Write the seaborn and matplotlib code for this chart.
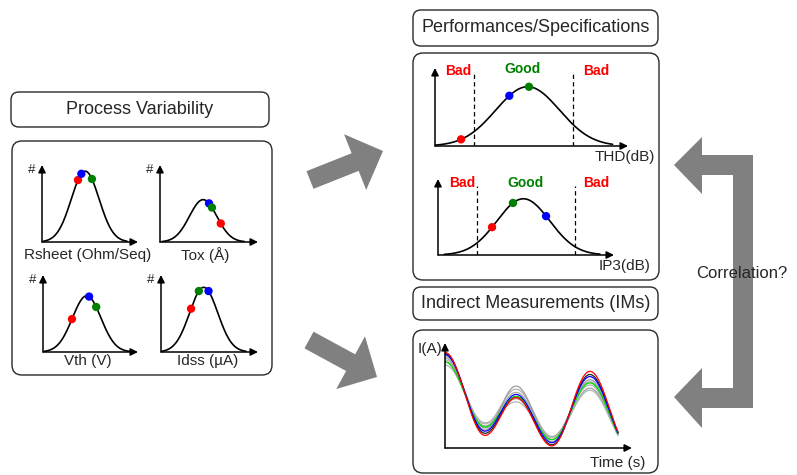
import numpy as np
import pandas as pd
import matplotlib.pyplot as plt
import seaborn as sns
from matplotlib.patches import FancyBboxPatch, FancyArrow, Polygon

sns.set_style("white")
plt.rcParams['font.family'] = ['Liberation Sans', 'DejaVu Sans']

W, H = 797, 475

# Process variability distributions (axes units: x 0..1, y 0..1)
pv_names = ['Rsheet (Ohm/Seq)', 'Tox (Å)', 'Vth (V)', 'Idss (µA)']
pv_center = [0.45, 0.44, 0.46, 0.44]
pv_sigma = [0.145, 0.14, 0.15, 0.145]
pv_peak = [0.92, 0.55, 0.73, 0.84]
# dot positions along x: red, blue, green
pv_red = [0.375, 0.62, 0.305, 0.31]
pv_blue = [0.41, 0.50, 0.485, 0.49]
pv_green = [0.52, 0.53, 0.56, 0.39]

# Performance distributions
perf_names = ['THD(dB)', 'IP3(dB)']
perf_center = [0.48, 0.485]
perf_sigma = [0.165, 0.15]
perf_peak = [0.76, 0.74]
perf_limits = [(0.20, 0.715), (0.22, 0.78)]
perf_red = [0.135, 0.307]
perf_blue = [0.385, 0.614]
perf_green = [0.487, 0.426]

# Indirect measurement waveforms: values read at the extrema
wave_t = [0.0, 0.214, 0.38, 0.572, 0.775, 0.985]
wave_end = 0.925
wave_traces = {
    'grey1': [0.84, 0.23, 0.56, 0.11, 0.60, 0.02],
    'grey2': [0.82, 0.21, 0.53, 0.10, 0.63, 0.02],
    'grey3': [0.86, 0.19, 0.47, 0.08, 0.57, 0.02],
    'grey4': [0.79, 0.24, 0.44, 0.10, 0.55, 0.02],
    'grey5': [0.88, 0.17, 0.59, 0.06, 0.65, 0.02],
    'black': [0.90, 0.14, 0.49, 0.03, 0.70, 0.02],
    'green': [0.82, 0.20, 0.49, 0.08, 0.62, 0.02],
    'blue': [0.89, 0.16, 0.51, 0.05, 0.68, 0.02],
    'red': [0.91, 0.12, 0.48, 0.02, 0.73, 0.02],
}
wave_colors = {'grey1': '#b0b0b0', 'grey2': '#a8a8a8', 'grey3': '#a0a0a0',
               'grey4': '#b4b4b4', 'grey5': '#9c9c9c', 'black': '#202020',
               'green': '#00dd00', 'blue': '#0000ff', 'red': '#ff0000'}

DOT = {'r': '#ff0000', 'b': '#0000ff', 'g': '#008000'}

fig = plt.figure(figsize=(W / 100, H / 100), dpi=100)
ax0 = fig.add_axes([0, 0, 1, 1])
ax0.set_xlim(0, W)
ax0.set_ylim(H, 0)
ax0.axis('off')


def rbox(x0, y0, x1, y1, r=9):
    ax0.add_patch(FancyBboxPatch((x0, y0), x1 - x0, y1 - y0,
                                 boxstyle=f"round,pad=0,rounding_size={r}",
                                 fc='white', ec='#2a2a2a', lw=1.0))


def px_axes(x0, ytop, x1, ybot):
    ax = fig.add_axes([x0 / W, 1 - ybot / H, (x1 - x0) / W, (ybot - ytop) / H])
    ax.set_xlim(0, 1)
    ax.set_ylim(0, 1)
    ax.axis('off')
    ax.patch.set_alpha(0)
    arrow = dict(arrowstyle='-|>', color='black', lw=1.1, mutation_scale=11,
                 shrinkA=0, shrinkB=0)
    ax.annotate('', xy=(0, 1), xytext=(0, 0), xycoords='axes fraction',
                arrowprops=arrow, annotation_clip=False)
    ax.annotate('', xy=(1, 0), xytext=(0, 0), xycoords='axes fraction',
                arrowprops=arrow, annotation_clip=False)
    return ax


def bell(c, s, p, x):
    return p * np.exp(-0.5 * ((np.asarray(x) - c) / s) ** 2)


def draw_bell(ax, c, s, p, xr, xb, xg, lo=0.01, hi=0.95):
    x = np.linspace(max(lo, c - 3 * s), min(hi, c + 3 * s), 200)
    sns.lineplot(x=x, y=bell(c, s, p, x), ax=ax, color='black', lw=1.2)
    dx = [xr, xb, xg]
    dots = pd.DataFrame({'x': dx, 'y': bell(c, s, p, dx), 'c': ['r', 'b', 'g']})
    sns.scatterplot(data=dots, x='x', y='y', hue='c', palette=DOT, s=36,
                    edgecolor='none', legend=False, ax=ax, zorder=5, clip_on=False)


# ---- boxes
rbox(11, 92, 269, 127, 8)
rbox(12, 141, 272, 375, 10)
rbox(413, 10, 658, 46, 8)
rbox(413, 53, 659, 280, 10)
rbox(413, 287, 658, 320, 8)
rbox(413, 330, 658, 473, 10)

ax0.text(140, 109, 'Process Variability', ha='center', va='center', fontsize=13)
ax0.text(536, 28, 'Performances/Specifications', ha='center', va='center', fontsize=13)
ax0.text(536, 304, 'Indirect Measurements (IMs)', ha='center', va='center', fontsize=13)

# ---- process variability mini plots
pv_boxes = [(42, 165, 138, 242), (160, 165, 258, 242),
            (43, 275, 138, 352), (161, 275, 258, 352)]
pv_label_pos = [(88, 255), (205, 255), (88, 361), (208, 361)]
for i, (x0, yt, x1, yb) in enumerate(pv_boxes):
    ax = px_axes(x0, yt, x1, yb)
    draw_bell(ax, pv_center[i], pv_sigma[i], pv_peak[i],
              pv_red[i], pv_blue[i], pv_green[i])
    ax0.text(x0 - 10, yt + 5, '#', ha='center', va='center', fontsize=9.5)
    ax0.text(*pv_label_pos[i], pv_names[i], ha='center', va='center', fontsize=11)

# ---- performance plots
perf_boxes = [(435, 68, 628, 146), (438, 179, 614, 255)]
perf_label_pos = [(655, 157), (651, 266)]
perf_text_y = [(0.96, 0.99), (0.95, 0.95)]
for i, (x0, yt, x1, yb) in enumerate(perf_boxes):
    ax = px_axes(x0, yt, x1, yb)
    draw_bell(ax, perf_center[i], perf_sigma[i], perf_peak[i],
              perf_red[i], perf_blue[i], perf_green[i], lo=0.0, hi=0.92)
    lo, hi = perf_limits[i]
    top = perf_text_y[i][0] - 0.04
    for v in (lo, hi):
        ax.plot([v, v], [0, top], color='black', lw=0.9, ls=(0, (3.5, 2.5)))
    yb_, yg_ = perf_text_y[i]
    ax.text(lo - 0.08, yb_, 'Bad', color='#ff0000', fontweight='bold',
            ha='center', va='center', fontsize=10)
    ax.text(hi + 0.12, yb_, 'Bad', color='#ff0000', fontweight='bold',
            ha='center', va='center', fontsize=10)
    ax.text((lo + hi) / 2 - 0.005, yg_, 'Good', color='#008000', fontweight='bold',
            ha='center', va='center', fontsize=10)
    ax0.text(*perf_label_pos[i], perf_names[i], ha='right', va='center', fontsize=11)

# ---- waveforms
axw = px_axes(445, 343, 632, 448)
tt = np.linspace(0, wave_end, 300)
kt = np.array(wave_t)
seg = np.clip(np.searchsorted(kt, tt, side='right') - 1, 0, len(kt) - 2)
frac = (tt - kt[seg]) / (kt[seg + 1] - kt[seg])
ease = (1 - np.cos(np.pi * frac)) / 2
for name, vals in wave_traces.items():
    v = np.array(vals)
    y = v[seg] + (v[seg + 1] - v[seg]) * ease
    sns.lineplot(x=tt, y=y, ax=axw, color=wave_colors[name], lw=0.9)
ax0.text(430, 349, 'I(A)', ha='center', va='center', fontsize=11)
ax0.text(645, 463, 'Time (s)', ha='right', va='center', fontsize=11)

# ---- big grey arrows
GREY = '#808080'
ax0.add_patch(FancyArrow(310, 180, 73, -29, width=19, head_width=60,
                         head_length=30, length_includes_head=True,
                         color=GREY, lw=0))
ax0.add_patch(FancyArrow(309, 340, 68, 37, width=19, head_width=60,
                         head_length=30, length_includes_head=True,
                         color=GREY, lw=0))
bracket = [(674, 165), (702, 137), (702, 155), (753, 155), (753, 408),
           (702, 408), (702, 428), (674, 397), (702, 368), (702, 388),
           (733, 388), (733, 175), (702, 175), (702, 194)]
ax0.add_patch(Polygon(bracket, closed=True, fc=GREY, ec='none'))
ax0.text(742, 273, 'Correlation?', ha='center', va='center', fontsize=12, zorder=5)

fig.savefig('out.png', dpi=100)
